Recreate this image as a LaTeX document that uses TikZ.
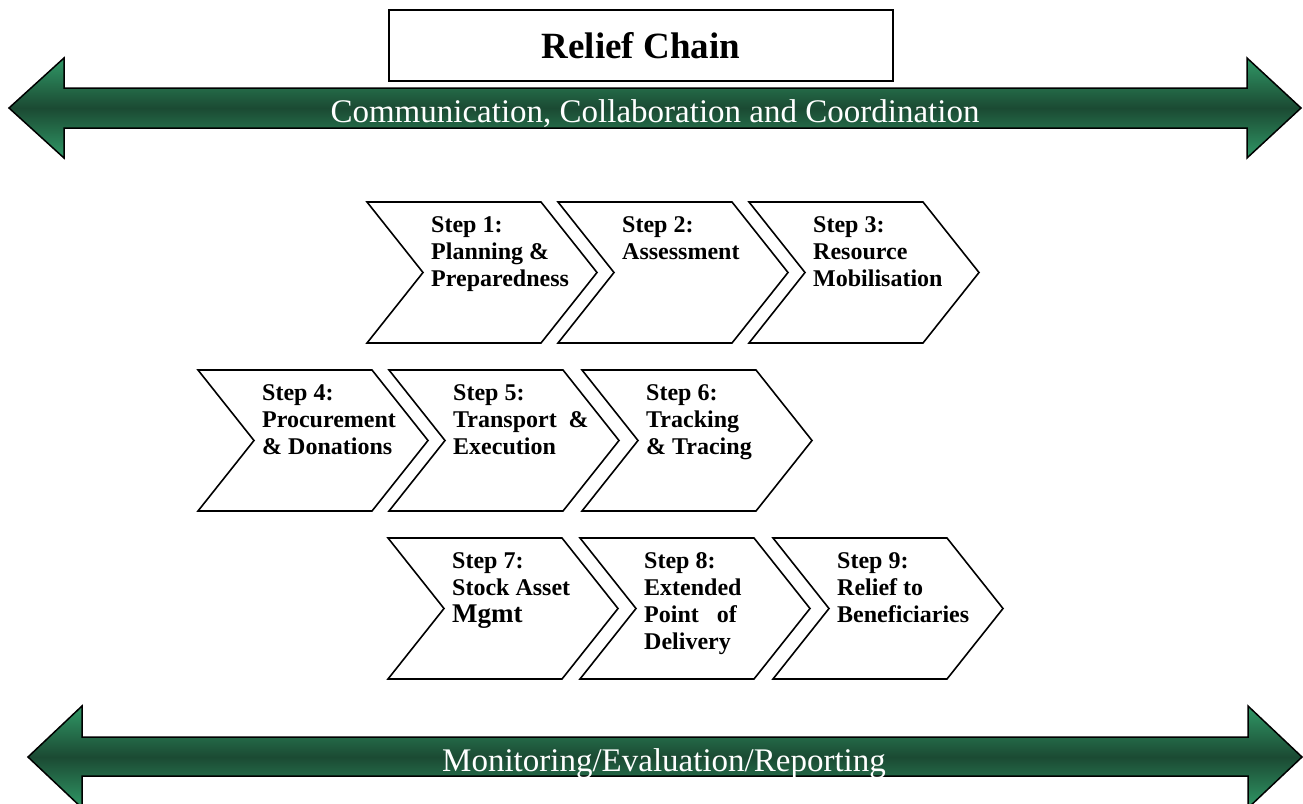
\documentclass[tikz,border=0pt]{standalone}
\usepackage{fontspec}
\setmainfont{Liberation Serif}
\usetikzlibrary{positioning}

\definecolor{bandlight}{RGB}{48,152,102}
\definecolor{banddark}{RGB}{27,74,51}

\tikzset{
  band/.style={draw=black, line width=1.5pt, line join=miter, top color=bandlight, bottom color=bandlight, middle color=banddark},
  bandtext/.style={text=white, font=\fontsize{33}{40}\selectfont, inner sep=0pt, anchor=base},
  chevron/.style={draw=black, line width=1.6pt, line join=miter},
  steptext/.style={anchor=north west, inner sep=0pt, align=left, font=\fontsize{24}{27}\selectfont\bfseries},
}

\begin{document}
\begin{tikzpicture}[x=1pt, y=-1pt]
\useasboundingbox (0,0) rectangle (1303,803);

% top and bottom bands
\path[band] (9,108) -- (64,58) -- (64,88) -- (1247,88) -- (1247,58) -- (1301,108) -- (1247,158) -- (1247,128) -- (64,128) -- (64,158) -- cycle;
\path[band] (28,757) -- (82,706) -- (82,737) -- (1248,737) -- (1248,706) -- (1302,757) -- (1248,808) -- (1248,776) -- (82,776) -- (82,808) -- cycle;

\node[draw, line width=1.5pt, minimum width=504pt, minimum height=71pt, inner sep=0pt, font=\fontsize{37}{44}\selectfont\bfseries] (title) at (641,45.5) {Relief Chain};

\node[bandtext] (comm) at (655,122) {Communication, Collaboration and Coordination};
\node[bandtext] (monitor) at (664,771) {Monitoring/Evaluation/Reporting};

% the nine steps
\def\w{230};
\def\p{56};
\def\h{141};
\foreach \x/\y/\n/\lbl in {
  367/202/1/{Step 1:\\Planning \&\\Preparedness},
  558/202/2/{Step 2:\\Assessment},
  749/202/3/{Step 3:\\Resource\\Mobilisation},
  198/370/4/{Step 4:\\Procurement\\\& Donations},
  389/370/5/{Step 5:\\Transport\ \ \&\\Execution},
  582/370/6/{Step 6:\\Tracking\\\& Tracing},
  388/538/7/{Step 7:\\Stock Asset\\{\fontsize{27}{27}\selectfont Mgmt}},
  580/538/8/{Step 8:\\Extended\\Point\ \ \ of\\Delivery},
  773/538/9/{Step 9:\\Relief to\\Beneficiaries}}{
  \draw[chevron] (\x,\y) -- ++(\w-\p,0) -- ++(\p,\h/2) -- ++(-\p,\h/2) -- ++(-\w+\p,0) -- ++(\p,-\h/2) -- cycle;
  \node[steptext] (step\n) at (\x+64,\y+14) {\lbl};
}

\end{tikzpicture}
\end{document}
